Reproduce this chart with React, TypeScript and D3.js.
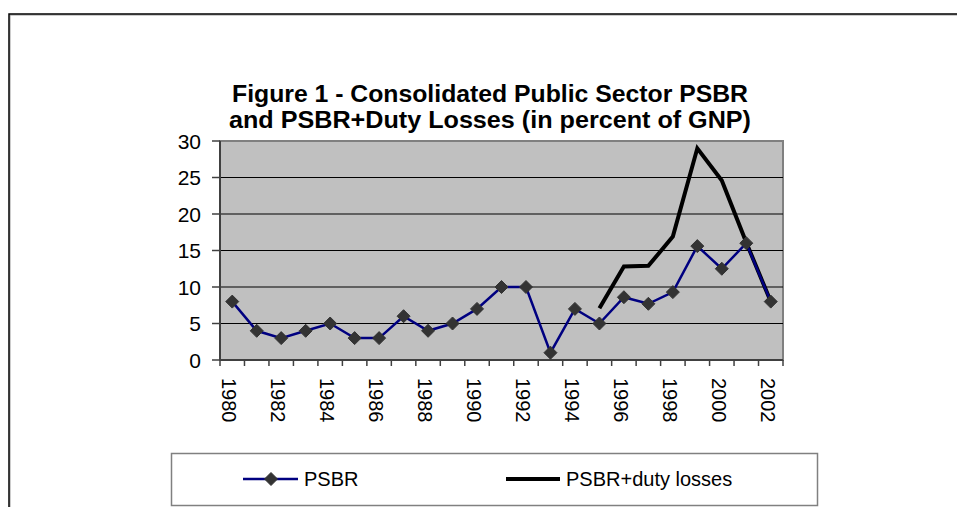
import React from "react";
import * as d3 from "d3";

const years = [
  "1980", "1981", "1982", "1983", "1984", "1985", "1986", "1987", "1988", "1989", "1990", "1991",
  "1992", "1993", "1994", "1995", "1996", "1997", "1998", "1999", "2000", "2001", "2002",
];
const psbr = [8, 4, 3, 4, 5, 3, 3, 6, 4, 5, 7, 10, 10, 1, 7, 5, 8.6, 7.7, 9.3, 15.6, 12.5, 16, 8];
const dutyLosses: (number | null)[] = [
  null, null, null, null, null, null, null, null, null, null, null, null,
  null, null, null, 7.1, 12.8, 12.9, 16.9, 29, 24.6, 16.1, 8,
];
const yTickValues = [0, 5, 10, 15, 20, 25, 30];
const titleLines = [
  "Figure 1 - Consolidated Public Sector PSBR",
  "and PSBR+Duty Losses (in percent of GNP)",
];
const titleWidths = [516, 522];

const font = "'Liberation Sans', Arial, sans-serif";
const navy = "#000080";
const markerFill = "#333333";

const W = 957;
const H = 507;
const left = 220;
const right = 783;
const top = 141;
const bottom = 360;

const diamond = (cx: number, cy: number, r: number) =>
  `M${cx},${cy - r}L${cx + r},${cy}L${cx},${cy + r}L${cx - r},${cy}Z`;

export default function App() {
  const x = d3.scaleBand<string>(years, [left, right]);
  const y = d3.scaleLinear([0, 30], [bottom, top]);
  const cx = (yr: string) => (x(yr) as number) + x.bandwidth() / 2;

  const psbrLine = d3
    .line<number>()
    .x((_, i) => cx(years[i]))
    .y((d) => y(d));

  const dutyLine = d3
    .line<number | null>()
    .defined((d) => d !== null)
    .x((_, i) => cx(years[i]))
    .y((d) => y(d as number));

  const tickXs = years.map((yr) => x(yr) as number).concat([right]);

  return (
    <div style={{ position: "absolute", left: 0, top: 0 }}>
      <svg width={W} height={H} style={{ display: "block", background: "#fff" }} fontFamily={font}>
        {/* outer frame */}
        <rect x={10} y={15} width={1000} height={1000} fill="none" stroke="#999" strokeWidth={1} />
        <rect x={9} y={14} width={1000} height={1000} fill="none" stroke="#000" strokeWidth={1.5} />

        {/* title */}
        {titleLines.map((t, i) => (
          <text
            key={i}
            x={490}
            y={102 + i * 26}
            textAnchor="middle"
            fontWeight="bold"
            fontSize={23}
            textLength={titleWidths[i]}
            lengthAdjust="spacingAndGlyphs"
            fill="#000"
          >
            {t}
          </text>
        ))}

        {/* plot area */}
        <rect x={left} y={top} width={right - left} height={bottom - top} fill="#c0c0c0" stroke="#808080" strokeWidth={2} />
        {yTickValues
          .filter((v) => v > 0 && v < 30)
          .map((v) => (
            <line key={v} x1={left} x2={right} y1={y(v)} y2={y(v)} stroke="#000" strokeWidth={1} />
          ))}

        {/* y axis */}
        <line x1={left} x2={left} y1={top} y2={bottom} stroke="#404040" strokeWidth={2} />
        {yTickValues.map((v) => (
          <g key={v}>
            <line x1={left - 8} x2={left} y1={y(v)} y2={y(v)} stroke="#404040" strokeWidth={1.5} />
            <text x={201} y={y(v)} dy="0.36em" textAnchor="end" fontSize={21} fill="#000">
              {v}
            </text>
          </g>
        ))}

        {/* x axis */}
        <line x1={left} x2={right} y1={bottom} y2={bottom} stroke="#404040" strokeWidth={2} />
        {tickXs.map((tx, i) => (
          <line key={i} x1={tx} x2={tx} y1={bottom} y2={bottom + 6} stroke="#404040" strokeWidth={1.5} />
        ))}
        {years
          .filter((_, i) => i % 2 === 0)
          .map((yr) => (
            <text
              key={yr}
              transform={`translate(${cx(yr) - 10},378) rotate(90)`}
              fontSize={20}
              fill="#000"
            >
              {yr}
            </text>
          ))}

        {/* series */}
        <path d={dutyLine(dutyLosses) || ""} fill="none" stroke="#000" strokeWidth={4} strokeLinejoin="miter" />
        <path d={psbrLine(psbr) || ""} fill="none" stroke={navy} strokeWidth={2.5} />
        {psbr.map((v, i) => (
          <path key={i} d={diamond(cx(years[i]), y(v), 6.5)} fill={markerFill} stroke={markerFill} strokeWidth={1} />
        ))}

        {/* legend */}
        <rect x={171.5} y={453.5} width={646} height={52} fill="#fff" stroke="#808080" strokeWidth={1.5} />
        <line x1={243} x2={298} y1={479} y2={479} stroke={navy} strokeWidth={2.5} />
        <path d={diamond(271, 479, 6.5)} fill={markerFill} stroke={markerFill} strokeWidth={1} />
        <text x={304} y={486} fontSize={20} fill="#000">
          PSBR
        </text>
        <line x1={506} x2={560} y1={479} y2={479} stroke="#000" strokeWidth={4} />
        <text x={566} y={486} fontSize={20} fill="#000">
          PSBR+duty losses
        </text>
      </svg>
    </div>
  );
}
